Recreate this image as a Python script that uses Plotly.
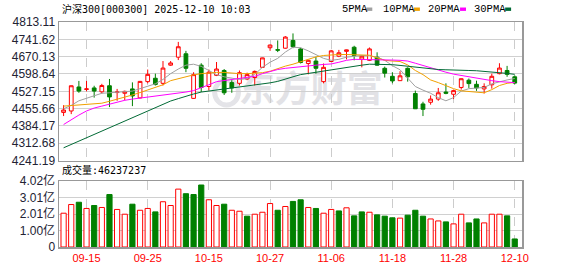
import plotly.graph_objects as go

dates = ["09-10", "09-11", "09-12", "09-15", "09-16", "09-17", "09-18", "09-19", "09-22", "09-23",
         "09-24", "09-25", "09-26", "09-29", "09-30", "10-09", "10-10", "10-13", "10-14", "10-15",
         "10-16", "10-17", "10-20", "10-21", "10-22", "10-23", "10-24", "10-27", "10-28", "10-29",
         "10-30", "10-31", "11-03", "11-04", "11-05", "11-06", "11-07", "11-10", "11-11", "11-12",
         "11-13", "11-14", "11-17", "11-18", "11-19", "11-20", "11-21", "11-24", "11-25", "11-26",
         "11-27", "11-28", "12-01", "12-02", "12-03", "12-04", "12-05", "12-08", "12-09", "12-10"]

opens = [4440, 4446, 4545, 4535, 4541, 4525, 4550, 4522, 4519, 4537,
         4500, 4567, 4581, 4560, 4635, 4668, 4682, 4498, 4635, 4547,
         4593, 4613, 4563, 4560, 4578, 4584, 4626, 4707, 4699, 4705,
         4737, 4702, 4642, 4652, 4567, 4650, 4672, 4692, 4709, 4660,
         4655, 4668, 4622, 4589, 4571, 4622, 4518, 4475, 4482, 4495,
         4524, 4515, 4543, 4573, 4556, 4537, 4554, 4600, 4613, 4587]
highs = [4470, 4551, 4570, 4570, 4550, 4558, 4578, 4537, 4530, 4564,
         4570, 4617, 4600, 4652, 4652, 4731, 4694, 4606, 4643, 4617,
         4648, 4619, 4573, 4613, 4604, 4613, 4666, 4720, 4737, 4755,
         4766, 4707, 4656, 4669, 4642, 4698, 4698, 4699, 4715, 4675,
         4708, 4688, 4629, 4606, 4610, 4626, 4530, 4484, 4510, 4541,
         4560, 4534, 4580, 4580, 4571, 4560, 4600, 4643, 4632, 4593]
lows = [4425, 4433, 4521, 4527, 4501, 4518, 4462, 4488, 4490, 4466,
        4498, 4560, 4551, 4551, 4632, 4656, 4606, 4496, 4524, 4530,
        4590, 4512, 4521, 4551, 4573, 4551, 4625, 4694, 4689, 4703,
        4705, 4642, 4597, 4600, 4560, 4648, 4668, 4659, 4655, 4626,
        4652, 4633, 4584, 4560, 4570, 4567, 4454, 4425, 4472, 4488,
        4515, 4495, 4534, 4541, 4529, 4518, 4538, 4597, 4587, 4556]
closes = [4450, 4550, 4528, 4537, 4528, 4551, 4504, 4524, 4527, 4508,
          4568, 4597, 4555, 4623, 4644, 4711, 4622, 4596, 4543, 4606,
          4619, 4521, 4541, 4604, 4596, 4609, 4665, 4718, 4697, 4751,
          4711, 4646, 4655, 4622, 4626, 4694, 4686, 4698, 4675, 4672,
          4702, 4635, 4602, 4570, 4591, 4587, 4455, 4453, 4495, 4521,
          4519, 4530, 4579, 4559, 4541, 4547, 4589, 4623, 4597, 4561]

ma5 = [4455, 4469, 4488, 4498, 4511, 4519, 4521, 4524, 4524, 4528,
       4538, 4547, 4558, 4576, 4600, 4619, 4635, 4639, 4630, 4613,
       4596, 4587, 4580, 4576, 4580, 4597, 4626, 4647, 4663, 4689,
       4709, 4707, 4694, 4678, 4663, 4655, 4659, 4668, 4673, 4675,
       4673, 4668, 4655, 4633, 4616, 4580, 4547, 4532, 4519, 4501,
       4488, 4501, 4528, 4538, 4541, 4543, 4558, 4567, 4574, 4580]
ma10 = [4466, 4468, 4470, 4471, 4473, 4478, 4486, 4494, 4502, 4512,
        4522, 4533, 4542, 4554, 4571, 4580, 4588, 4595, 4600, 4604,
        4605, 4605, 4602, 4600, 4600, 4601, 4604, 4610, 4622, 4631,
        4639, 4650, 4659, 4669, 4675, 4678, 4679, 4679, 4679, 4677,
        4676, 4665, 4655, 4652, 4650, 4636, 4613, 4596, 4574, 4563,
        4550, 4538, 4529, 4526, 4525, 4521, 4534, 4551, 4560, 4564]
ma20 = [4390, 4410, 4429, 4446, 4458, 4466, 4475, 4482, 4490, 4495,
        4499, 4503, 4507, 4509, 4513, 4518, 4524, 4530, 4541, 4554,
        4567, 4571, 4574, 4578, 4583, 4589, 4600, 4610, 4617, 4622,
        4626, 4629, 4631, 4635, 4638, 4640, 4647, 4655, 4659, 4659,
        4659, 4659, 4658, 4656, 4655, 4652, 4643, 4633, 4625, 4616,
        4606, 4598, 4592, 4587, 4581, 4576, 4571, 4567, 4564, 4563]
ma30 = [4294, 4308, 4322, 4336, 4350, 4364, 4378, 4392, 4406, 4420,
        4434, 4448, 4462, 4475, 4487, 4497, 4508, 4516, 4524, 4528,
        4532, 4537, 4541, 4545, 4549, 4553, 4558, 4562, 4568, 4576,
        4587, 4596, 4601, 4606, 4613, 4618, 4622, 4626, 4630, 4635,
        4639, 4639, 4638, 4637, 4634, 4630, 4626, 4623, 4618, 4617,
        4616, 4614, 4614, 4613, 4612, 4610, 4608, 4605, 4601, 4597]

volume_yi = [2.06, 2.59, 2.73, 2.35, 2.53, 2.41, 3.20, 2.29, 2.00, 2.61,
             2.24, 2.35, 2.14, 2.76, 2.53, 3.53, 3.25, 3.20, 3.78, 2.88,
             2.53, 2.61, 2.24, 2.18, 1.88, 2.00, 2.12, 2.65, 2.24, 2.47,
             2.78, 2.88, 2.41, 2.35, 2.06, 2.29, 2.20, 2.39, 1.90, 2.14,
             2.12, 1.96, 1.88, 1.78, 1.76, 1.94, 2.24, 1.88, 1.71, 1.59,
             1.53, 1.41, 2.00, 1.47, 1.71, 1.47, 2.00, 2.00, 1.90, 0.49]
volume_up = [1, 1, 0, 1, 0, 1, 0, 1, 1, 0,
             1, 1, 0, 1, 1, 1, 0, 0, 0, 1,
             1, 0, 1, 1, 0, 1, 1, 1, 0, 1,
             0, 0, 1, 0, 1, 1, 0, 1, 0, 0,
             1, 0, 0, 0, 1, 0, 0, 0, 1, 1,
             0, 1, 1, 0, 0, 1, 1, 1, 0, 0]

price_ticks = [4241.19, 4312.68, 4384.17, 4455.66, 4527.15, 4598.64, 4670.13, 4741.62, 4813.11]
vol_ticks = [0, 1.00, 2.01, 3.01, 4.02]
vol_tick_text = ["0", "1.00亿", "2.01亿", "3.01亿", "4.02亿"]
x_tick_dates = ["09-15", "09-25", "10-15", "10-27", "11-06", "11-18", "11-28", "12-10"]

title_text = "沪深300[000300] 2025-12-10 10:03"
volume_label = "成交量:46237237"
ma_names = ["5PMA", "10PMA", "20PMA", "30PMA"]
ma_colors = ["#a0a0a0", "#f0a000", "#ff00ff", "#006a35"]

RED = "#ff0000"
GREEN = "#008000"

fig = go.Figure()

fig.add_trace(go.Candlestick(
    x=dates, open=opens, high=highs, low=lows, close=closes,
    increasing=dict(line=dict(color=RED, width=1), fillcolor="#ffffff"),
    decreasing=dict(line=dict(color=GREEN, width=1), fillcolor=GREEN),
    whiskerwidth=0, xaxis="x", yaxis="y", showlegend=False, hoverinfo="skip",
))
for vals, col in zip([ma5, ma10, ma20, ma30], ma_colors):
    fig.add_trace(go.Scatter(x=dates, y=vals, mode="lines", line=dict(color=col, width=1),
                             xaxis="x", yaxis="y", showlegend=False, hoverinfo="skip"))

fig.add_trace(go.Bar(
    x=dates, y=volume_yi, width=0.68,
    marker=dict(color=["#ffffff" if u else GREEN for u in volume_up],
                line=dict(color=[RED if u else GREEN for u in volume_up], width=1)),
    xaxis="x2", yaxis="y2", showlegend=False, hoverinfo="skip",
))

axis_line = dict(showline=True, linecolor="#999999", linewidth=1.5, mirror=True, zeroline=False)
xcommon = dict(type="category", range=[-0.6, 59.95], tickvals=x_tick_dates,
               showgrid=True, gridcolor="#cccccc", griddash="dash", gridwidth=1,
               ticks="", fixedrange=True, **axis_line)

fig.update_layout(
    width=578, height=276,
    margin=dict(l=55, r=56, t=22, b=21),
    paper_bgcolor="#ffffff", plot_bgcolor="#ffffff",
    font=dict(family="Liberation Sans, Arial, Noto Sans CJK SC", size=12, color="#222222"),
    xaxis=dict(domain=[0, 1], anchor="y", showticklabels=False,
               rangeslider=dict(visible=False), **xcommon),
    yaxis=dict(domain=[0.384, 1.0], range=[4241.19, 4813.11], tickvals=price_ticks,
               ticktext=[f"{v:.2f}" for v in price_ticks], showgrid=True,
               gridcolor="#d0d0d0", gridwidth=1, ticks="", fixedrange=True,
               tickfont=dict(size=12, color="#222233"), **axis_line),
    xaxis2=dict(domain=[0, 1], anchor="y2", matches="x",
                tickfont=dict(size=11, color=RED), **xcommon),
    yaxis2=dict(domain=[0, 0.293], range=[0, 4.02], tickvals=vol_ticks, ticktext=vol_tick_text,
                showgrid=True, gridcolor="#d0d0d0", gridwidth=1, ticks="", fixedrange=True,
                tickfont=dict(size=12, color="#222233", family="Liberation Sans, Noto Sans CJK SC"),
                **axis_line),
    bargap=0.3,
)


def px_x(p):
    return (p - 55) / 467.0


def px_y(p):
    return (255 - p) / 233.0


shapes = [dict(type="rect", xref="paper", yref="paper",
               x0=px_x(238), x1=px_x(380), y0=px_y(112), y1=px_y(78),
               line=dict(width=0), fillcolor="rgba(0,0,0,0)", layer="below",
               label=dict(text="东方财富", textposition="middle center",
                          font=dict(family="Noto Sans CJK SC", size=36, color="#e2e2e6", weight="bold"))),
          dict(type="circle", xref="paper", yref="paper",
               x0=px_x(212), x1=px_x(236), y0=px_y(108), y1=px_y(82),
               line=dict(width=5, color="#e4e4e8"), fillcolor="rgba(0,0,0,0)", layer="below")]

annotations = [
    dict(text=title_text, xref="paper", yref="paper", x=px_x(56), y=px_y(8.5),
         xanchor="left", yanchor="middle", showarrow=False,
         font=dict(family="DejaVu Sans Mono, Noto Sans CJK SC", size=10, color="#000000")),
    dict(text=volume_label, xref="paper", yref="paper", x=px_x(56), y=px_y(175.5),
         xanchor="left", yanchor="middle", showarrow=False,
         font=dict(family="DejaVu Sans Mono, Noto Sans CJK SC", size=10, color="#000000")),
]

legend_text_left = [338, 380, 425.5, 471.5]
legend_sq_left = [365, 413, 459.5, 505]
for name, col, tx, sx in zip(ma_names, ma_colors, legend_text_left, legend_sq_left):
    annotations.append(dict(text=name, xref="paper", yref="paper", x=px_x(tx), y=px_y(9),
                            xanchor="left", yanchor="middle", showarrow=False,
                            font=dict(family="Liberation Mono", size=10.5, color="#000000")))
    shapes.append(dict(type="rect", xref="paper", yref="paper", x0=px_x(sx), x1=px_x(sx + 6),
                       y0=px_y(10.5), y1=px_y(7), line=dict(width=0), fillcolor=col))

fig.update_layout(shapes=shapes, annotations=annotations)

fig.write_html("out.html", config={"displayModeBar": False, "staticPlot": True})
